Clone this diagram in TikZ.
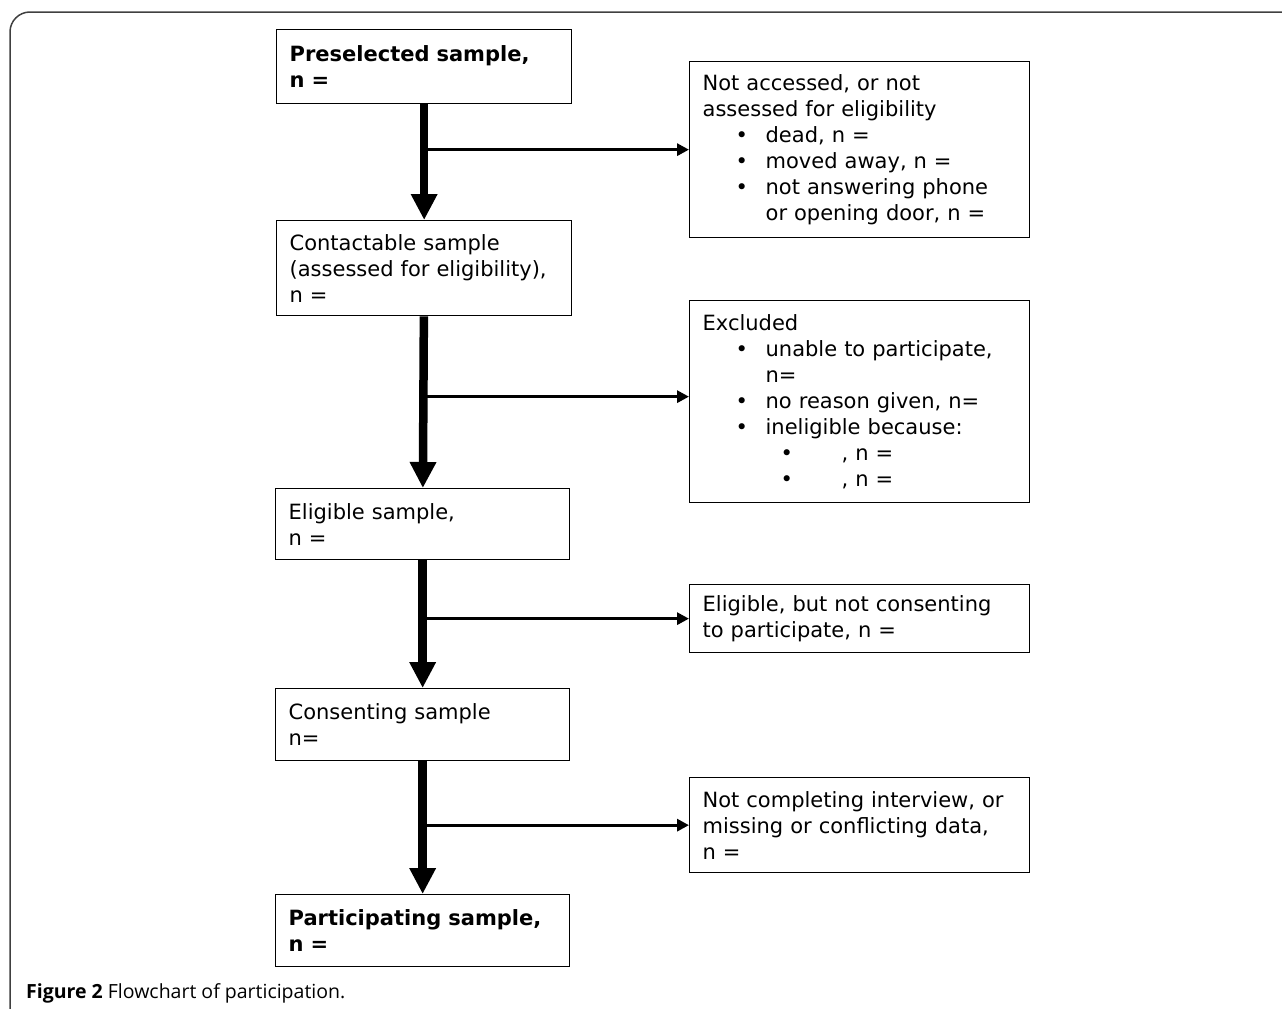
\documentclass[tikz,border=0pt]{standalone}
\usepackage{fontspec}
\setmainfont{DejaVu Sans}
\newfontfamily\capfont{Open Sans}
\usetikzlibrary{arrows.meta}

\newcommand{\itm}[1]{\hspace*{33pt}\makebox[30pt][l]{\textbullet}#1}
\newcommand{\cnt}[1]{\hspace*{63pt}#1}
\newcommand{\subitm}[1]{\hspace*{78pt}\makebox[61pt][l]{\textbullet}#1}

\begin{document}
\begin{tikzpicture}[x=1pt, y=-1pt,
    box/.style={draw, line width=1.3pt, anchor=north west, align=left,
      inner xsep=13pt, inner ysep=0pt, font=\fontsize{21}{26}\selectfont},
    flow/.style={line width=8.5pt, -{Triangle[length=26pt,width=25pt]}},
    side/.style={line width=3pt, -{Triangle[length=12pt,width=12pt]}}]
    \useasboundingbox (0,0) rectangle (1282,1009);
    \draw[line width=1.5pt, black!75, rounded corners=20pt] (10,1009) -- (10,12) -- (1282,12);

    \node[box, text width=269pt, minimum height=74pt] (s1) at (276,29) {\textbf{Preselected sample,}\\\textbf{n =}};
    \node[box, text width=269pt, minimum height=95pt] (s2) at (276,220) {Contactable sample\\(assessed for eligibility),\\n =};
    \node[box, text width=268pt, minimum height=71pt] (s3) at (275,488) {Eligible sample,\\n =};
    \node[box, text width=268pt, minimum height=72pt] (s4) at (275,688) {Consenting sample\\n=};
    \node[box, text width=268pt, minimum height=72pt] (s5) at (275,894) {\textbf{Participating sample,}\\\textbf{n =}};

    \node[box, text width=314pt, minimum height=176pt] (x1) at (689,61) {Not accessed, or not\\assessed for eligibility\\\itm{dead, n =}\\\itm{moved away, n =}\\\itm{not answering phone}\\\cnt{or opening door, n =}};
    \node[box, text width=314pt, minimum height=202pt] (x2) at (689,300) {Excluded\\\itm{unable to participate,}\\\cnt{n=}\\\itm{no reason given, n=}\\\itm{ineligible because:}\\\subitm{, n =}\\\subitm{, n =}};
    \node[box, text width=314pt, minimum height=68pt] (x3) at (689,584) {Eligible, but not consenting\\to participate, n =};
    \node[box, text width=314pt, minimum height=95pt] (x4) at (689,777) {Not completing interview, or\\missing or conflicting data,\\n =};
    \coordinate (x2in) at ([yshift=5pt]x2.west);

    \draw[flow] (s1) -- (s2);
    \draw[flow] (s2) -- (s3);
    \draw[flow] (s3) -- (s4);
    \draw[flow] (s4) -- (s5);

    \draw[side] (s1 |- x1.west) -- (x1.west);
    \draw[side] (s2 |- x2in) -- (x2in);
    \draw[side] (s3 |- x3.west) -- (x3.west);
    \draw[side] (s4 |- x4.west) -- (x4.west);

    \node[anchor=base west, inner sep=0pt, font=\capfont\fontsize{19.5}{22}\selectfont] (cap) at (26,998) {\textbf{Figure 2} Flowchart of participation.};
\end{tikzpicture}
\end{document}
